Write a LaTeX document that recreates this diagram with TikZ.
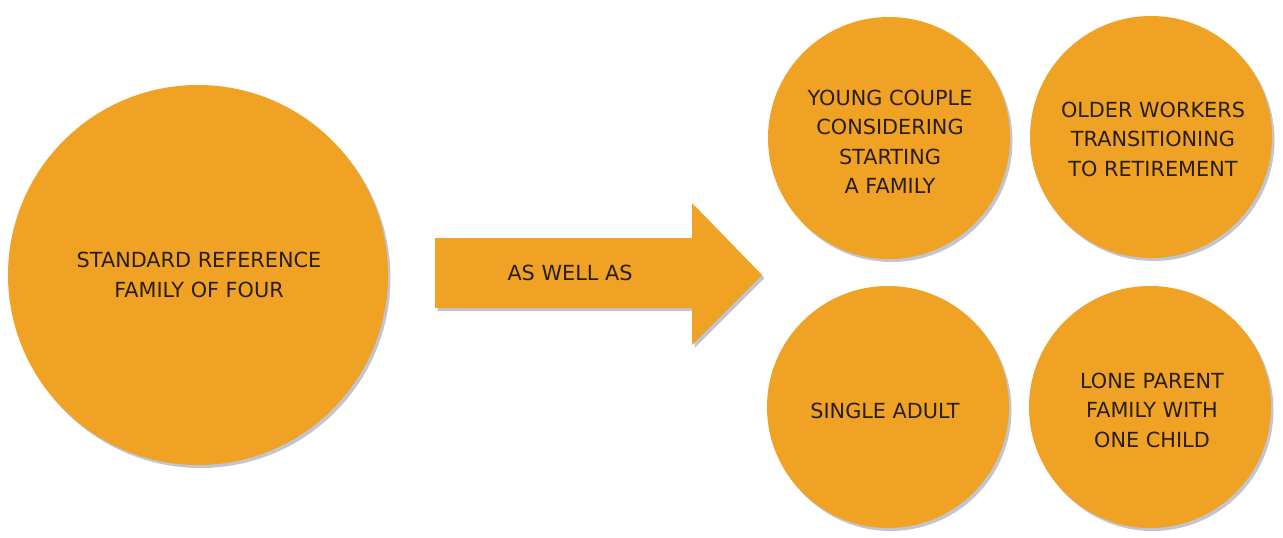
\documentclass[tikz,border=0pt]{standalone}
\usepackage{fontspec}
\setmainfont{DejaVu Sans}
\usetikzlibrary{shadows}
\definecolor{disc}{RGB}{240,162,36}
\definecolor{shade}{RGB}{120,125,150}
\definecolor{ink}{RGB}{40,30,22}
\tikzset{
  softshadow/.style={drop shadow={shadow xshift=2.5pt, shadow yshift=-3pt, fill=shade, opacity=0.45}},
  bigdisc/.style={circle, fill=disc, minimum size=380pt, inner sep=0pt, softshadow},
  smalldisc/.style={circle, fill=disc, minimum size=242pt, inner sep=0pt, softshadow},
  label/.style={text=ink, font=\fontsize{20.8}{29.5}\selectfont, align=center, inner sep=0pt}
}
\begin{document}
\begin{tikzpicture}[x=1pt, y=-1pt]
\useasboundingbox (0,0) rectangle (1283,538);
% big circle
\node[bigdisc] (std) at (198,275) {};
\node[label] (stdtxt) at (199,275) {STANDARD REFERENCE\\FAMILY OF FOUR};
% arrow
\fill[disc, softshadow] (435,238) -- (692,238) -- (692,203) -- (762,275) -- (692,345) -- (692,308) -- (435,308) -- cycle;
\node[label] (aswell) at (570,273) {AS WELL AS};
% small circles
\node[smalldisc] (young) at (889,138) {};
\node[label] (youngtxt) at (890,142) {YOUNG COUPLE\\CONSIDERING\\STARTING\\A FAMILY};
\node[smalldisc] (older) at (1151,137) {};
\node[label] (oldertxt) at (1153,139) {OLDER WORKERS\\TRANSITIONING\\TO RETIREMENT};
\node[smalldisc] (single) at (888,407) {};
\node[label] (singletxt) at (885,411) {SINGLE ADULT};
\node[smalldisc] (lone) at (1150,407) {};
\node[label] (lonetxt) at (1152,410) {LONE PARENT\\FAMILY WITH\\ONE CHILD};
\end{tikzpicture}
\end{document}
